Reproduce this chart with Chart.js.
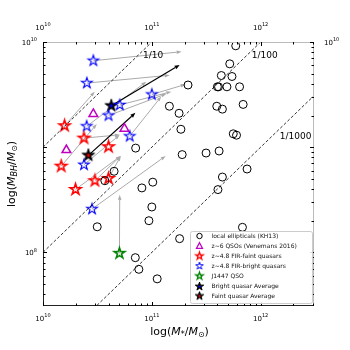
<!DOCTYPE html>
<html>
<head>
<meta charset="utf-8">
<script src="https://cdn.jsdelivr.net/npm/chart.js@4.4.0/dist/chart.umd.min.js"></script>
<style>
html,body{margin:0;padding:0;background:#fff}
</style>
</head>
<body>
<canvas id="myChart" width="350" height="350"></canvas>
<script>
// local ellipticals (KH13)
var ellX = [5.9e11,5.2e11,4.35e11,5.45e11,4.0e11,4.1e11,4.9e11,6.4e11,2.15e11,1.45e11,1.78e11,3.95e11,4.45e11,6.9e11,1.85e11,5.6e11,6.0e11,1.9e11,3.15e11,4.15e11,7.1e10,7.5e11,4.45e11,4.05e11,8.1e10,1.02e11,1.0e11,9.4e10,1.8e11,7.05e10,7.6e10,1.12e11,4.5e10,3.7e10,3.15e10,6.8e11];
var ellY = [9.2e9,6.2e9,4.8e9,4.7e9,3.75e9,3.75e9,3.75e9,3.75e9,3.9e9,2.45e9,2.1e9,2.45e9,2.3e9,2.55e9,1.48e9,1.34e9,1.3e9,8.5e8,8.8e8,9.2e8,9.8e8,6.2e8,5.2e8,3.95e8,4.1e8,4.65e8,2.7e8,2.0e8,1.35e8,8.9e7,6.9e7,5.6e7,5.9e8,4.8e8,1.75e8,1.73e8];
// z~6 QSOs (Venemans 2016)
var triX = [2.9e10,1.64e10,5.6e10];
var triY = [2.07e9,9.4e8,1.5e9];
// z~4.8 FIR-faint
var faintX = [1.58e10,2.38e10,4.0e10,1.47e10,1.99e10,3.0e10,4.0e10];
var faintY = [1.6e9,1.22e9,1.01e9,6.6e8,3.96e8,4.8e8,5.05e8];
var faintEndX = [2.99e10,5.07e10,null,3.12e10,5.18e10,5.18e10,5.18e10];
var faintEndY = [3.37e9,1.31e9,null,1.66e9,8.26e8,8.26e8,8.26e8];
// z~4.8 FIR-bright
var brightX = [2.9e10,2.53e10,1.0e11,5.07e10,4.0e10,2.52e10,6.26e10,2.38e10,2.82e10];
var brightY = [6.64e9,4.07e9,3.17e9,2.52e9,2.0e9,1.58e9,1.27e9,6.8e8,2.58e8];
var brightEndX = [1.88e11,1.46e11,2.05e11,1.51e11,1.36e11,8.89e10,1.22e11,5.07e10,1.34e11];
var brightEndY = [8.09e9,4.83e9,3.96e9,3.37e9,3.22e9,4.19e9,3.03e9,1.31e9,8.26e8];
// J1447
var jX = [5.04e10], jY = [9.8e7], jEndX = [5.07e10], jEndY = [3.52e8];
// averages
var bAvgX = [4.24e10], bAvgY = [2.48e9], bAvgEndX = [1.80e11], bAvgEndY = [6.04e9];
var fAvgX = [2.61e10], fAvgY = [8.36e8], fAvgEndX = [7.06e10], fAvgEndY = [2.12e9];

var ratios = [0.1, 0.01, 0.001];
var ratioLabels = ['1/10', '1/100', '1/1000'];
var ratioLabelX = [8.3e10, 8.3e11, 1.5e12];
var ratioLabelY = [7.4e9, 7.4e9, 1.25e9];

var xTicks = [1e10, 1e11, 1e12];
var yLeftTicks = [1e8, 1e10];
var yRightTicks = [1e10];
var legendLabels = ['local ellipticals (KH13)','z~6 QSOs (Venemans 2016)','z~4.8 FIR-faint quasars','z~4.8 FIR-bright quasars','J1447 QSO','Bright quasar Average','Faint quasar Average'];

var xMin = 1e10, xMax = Math.pow(10, 12.49);
var yMin = Math.pow(10, 7.49), yMax = 1e10;
var FONT = 'DejaVu Sans';

function pts(xs, ys){ return xs.map(function(x,i){ return {x:x, y:ys[i]}; }); }

function starImg(R, lw, stroke, fill, dot){
  var s = Math.ceil(2*R + lw*2 + 2);
  var c = document.createElement('canvas');
  c.width = c.height = s;
  var g = c.getContext('2d');
  function path(r){
    g.beginPath();
    for (var i=0;i<10;i++){
      var rr = i%2 ? r*0.382 : r;
      var a = -Math.PI/2 + i*Math.PI/5;
      g.lineTo(s/2 + rr*Math.cos(a), s/2 + rr*Math.sin(a));
    }
    g.closePath();
  }
  path(R);
  if (fill){ g.fillStyle = fill; g.fill(); }
  g.lineJoin = 'miter';
  g.lineWidth = lw; g.strokeStyle = stroke; g.stroke();
  if (dot){ path(R*0.4); g.fillStyle = dot; g.fill(); }
  return c;
}

var redStar = starImg(5.8, 1.6, '#ff0000', null);
var blueStar = starImg(5.6, 1.1, '#0000ff', null);
var greenStar = starImg(5.6, 1.6, '#008000', null);
var bAvgStar = starImg(6.6, 1, '#000', '#000', '#0000ff');
var fAvgStar = starImg(6.6, 1, '#000', '#000', '#ff0000');

var lRed = starImg(3.9, 1.3, '#ff0000', null);
var lBlue = starImg(3.9, 1, '#0000ff', null);
var lGreen = starImg(3.9, 1.3, '#008000', null);
var lBAvg = starImg(4.4, 1, '#000', '#000', '#0000ff');
var lFAvg = starImg(4.4, 1, '#000', '#000', '#ff0000');

function drawArrow(ctx, x0, y0, x1, y1, color, lw, hl, hw){
  var dx = x1-x0, dy = y1-y0, L = Math.sqrt(dx*dx+dy*dy);
  var ux = dx/L, uy = dy/L;
  var bx = x1 - ux*hl, by = y1 - uy*hl;
  ctx.strokeStyle = color; ctx.fillStyle = color; ctx.lineWidth = lw;
  ctx.beginPath(); ctx.moveTo(x0,y0); ctx.lineTo(bx,by); ctx.stroke();
  ctx.beginPath();
  ctx.moveTo(x1,y1);
  ctx.lineTo(bx - uy*hw/2, by + ux*hw/2);
  ctx.lineTo(bx + uy*hw/2, by - ux*hw/2);
  ctx.closePath(); ctx.fill();
}

function richWidth(ctx, parts){
  var w = 0;
  parts.forEach(function(p){ ctx.font = p.f; w += ctx.measureText(p.t).width; });
  return w;
}
function drawRich(ctx, parts, x, y){
  var w = richWidth(ctx, parts), cx = x - w/2;
  ctx.textAlign = 'left'; ctx.textBaseline = 'middle';
  parts.forEach(function(p){
    ctx.font = p.f;
    ctx.fillText(p.t, cx, y + (p.dy||0));
    cx += ctx.measureText(p.t).width;
  });
}
function pow10Label(ctx, v, x, y, align){
  var e = String(Math.round(Math.log10(v)));
  ctx.font = '7px ' + FONT; var w1 = ctx.measureText('10').width;
  ctx.font = '5px ' + FONT; var w2 = ctx.measureText(e).width;
  var sx = align === 'center' ? x - (w1+w2)/2 : (align === 'right' ? x - w1 - w2 : x);
  ctx.textAlign = 'left'; ctx.textBaseline = 'middle';
  ctx.font = '7px ' + FONT; ctx.fillText('10', sx, y + 1);
  ctx.font = '5px ' + FONT; ctx.fillText(e, sx + w1, y - 2);
}

var arrowsPlugin = {
  id: 'arrows',
  beforeDatasetsDraw: function(chart){
    var ctx = chart.ctx, xs = chart.scales.x, ys = chart.scales.y, a = chart.chartArea;
    ctx.save();
    ctx.beginPath(); ctx.rect(a.left, a.top, a.right-a.left, a.bottom-a.top); ctx.clip();
    function grey(X, Y, EX, EY){
      for (var i=0;i<X.length;i++){
        if (EX[i] == null) continue;
        drawArrow(ctx, xs.getPixelForValue(X[i]), ys.getPixelForValue(Y[i]),
          xs.getPixelForValue(EX[i]), ys.getPixelForValue(EY[i]), '#aaaaaa', 1, 5, 3.5);
      }
    }
    grey(brightX, brightY, brightEndX, brightEndY);
    grey(faintX, faintY, faintEndX, faintEndY);
    grey(jX, jY, jEndX, jEndY);
    drawArrow(ctx, xs.getPixelForValue(bAvgX[0]), ys.getPixelForValue(bAvgY[0]),
      xs.getPixelForValue(bAvgEndX[0]), ys.getPixelForValue(bAvgEndY[0]), '#000', 1.2, 5, 4);
    drawArrow(ctx, xs.getPixelForValue(fAvgX[0]), ys.getPixelForValue(fAvgY[0]),
      xs.getPixelForValue(fAvgEndX[0]), ys.getPixelForValue(fAvgEndY[0]), '#000', 1.2, 5, 4);
    ctx.restore();
  },
  afterDraw: function(chart){
    var ctx = chart.ctx, xs = chart.scales.x, ys = chart.scales.y, a = chart.chartArea;
    ctx.save();
    // frame
    ctx.lineWidth = 1;
    ctx.strokeStyle = '#bbbbbb';
    ctx.beginPath(); ctx.moveTo(a.left, a.top+0.5); ctx.lineTo(a.right, a.top+0.5);
    ctx.moveTo(a.right-0.5, a.top); ctx.lineTo(a.right-0.5, a.bottom); ctx.stroke();
    ctx.strokeStyle = '#222';
    ctx.beginPath(); ctx.moveTo(a.left+0.5, a.top); ctx.lineTo(a.left+0.5, a.bottom);
    ctx.moveTo(a.left, a.bottom-0.5); ctx.lineTo(a.right, a.bottom-0.5); ctx.stroke();
    // ticks
    ctx.strokeStyle = '#000';
    for (var d=10; d<=12; d++){
      for (var m=1; m<=9; m++){
        var v = m*Math.pow(10,d);
        if (v < xMin*0.999 || v > xMax) continue;
        var px = Math.round(xs.getPixelForValue(v)) + 0.5, L = m===1 ? 4 : 2.5;
        ctx.beginPath();
        ctx.moveTo(px, a.bottom); ctx.lineTo(px, a.bottom - L);
        ctx.moveTo(px, a.top); ctx.lineTo(px, a.top + L);
        ctx.stroke();
      }
    }
    for (var d2=7; d2<=10; d2++){
      for (var m2=1; m2<=9; m2++){
        var v2 = m2*Math.pow(10,d2);
        if (v2 < yMin || v2 > yMax*1.001) continue;
        var py = Math.round(ys.getPixelForValue(v2)) + 0.5, L2 = m2===1 ? 4 : 2.5;
        ctx.beginPath();
        ctx.moveTo(a.left, py); ctx.lineTo(a.left + L2, py);
        ctx.moveTo(a.right, py); ctx.lineTo(a.right - L2, py);
        ctx.stroke();
      }
    }
    // tick labels
    ctx.fillStyle = '#000';
    xTicks.forEach(function(v){
      var px = xs.getPixelForValue(v);
      pow10Label(ctx, v, px, a.bottom + 12, 'center');
      pow10Label(ctx, v, px, a.top - 15, 'center');
    });
    yLeftTicks.forEach(function(v){ pow10Label(ctx, v, a.left - 6, ys.getPixelForValue(v), 'right'); });
    yRightTicks.forEach(function(v){ pow10Label(ctx, v, a.right + 10, ys.getPixelForValue(v), 'left'); });
    // ratio labels
    ctx.font = '9px ' + FONT; ctx.textAlign = 'left'; ctx.textBaseline = 'middle';
    ratioLabels.forEach(function(t,i){
      ctx.fillText(t, xs.getPixelForValue(ratioLabelX[i]), ys.getPixelForValue(ratioLabelY[i]));
    });
    // axis titles
    var big = '11px ' + FONT, it = 'italic 11px ' + FONT, sub = 'italic 8px ' + FONT, subr = '8px ' + FONT;
    drawRich(ctx, [{t:'log(',f:big},{t:'M',f:it},{t:'*',f:subr,dy:3},{t:'/',f:big},{t:'M',f:it},{t:'\u2299',f:subr,dy:3},{t:')',f:big}],
      (a.left+a.right)/2 + 1, a.bottom + 26);
    ctx.save();
    ctx.translate(12, (a.top+a.bottom)/2);
    ctx.rotate(-Math.PI/2);
    drawRich(ctx, [{t:'log(',f:big},{t:'M',f:it},{t:'BH',f:sub,dy:3},{t:'/',f:big},{t:'M',f:it},{t:'\u2299',f:subr,dy:3},{t:')',f:big}], 0, 0);
    ctx.restore();
    // legend
    var lx = 190, ly = 231, lw = 122, lh = 72;
    ctx.fillStyle = 'rgba(255,255,255,0.85)';
    ctx.strokeStyle = '#cccccc'; ctx.lineWidth = 1;
    ctx.beginPath();
    if (ctx.roundRect) ctx.roundRect(lx+0.5, ly+0.5, lw, lh, 2); else ctx.rect(lx+0.5, ly+0.5, lw, lh);
    ctx.fill(); ctx.stroke();
    var mx = 199.5, tx = 211.5;
    var rows = [236, 246, 256, 266, 276, 286.5, 296];
    // circle
    ctx.strokeStyle = '#000'; ctx.lineWidth = 1;
    ctx.beginPath(); ctx.arc(mx, rows[0], 2.7, 0, Math.PI*2); ctx.stroke();
    // triangle
    ctx.strokeStyle = '#bf00bf'; ctx.lineWidth = 1.3;
    ctx.beginPath(); ctx.moveTo(mx, rows[1]-3.3); ctx.lineTo(mx+3, rows[1]+2.3); ctx.lineTo(mx-3, rows[1]+2.3); ctx.closePath(); ctx.stroke();
    [lRed, lBlue, lGreen, lBAvg, lFAvg].forEach(function(img, i){
      ctx.drawImage(img, mx - img.width/2, rows[i+2] - img.height/2);
    });
    ctx.fillStyle = '#111'; ctx.font = '6px ' + FONT; ctx.textAlign = 'left'; ctx.textBaseline = 'middle';
    legendLabels.forEach(function(t,i){ ctx.fillText(t, tx, rows[i]); });
    ctx.restore();
  }
};

var ratioData = ratios.map(function(r){ return [{x:xMin, y:xMin*r}, {x:xMax, y:xMax*r}]; });

var datasets = [];
ratioData.forEach(function(d){
  datasets.push({type:'line', data:d, borderColor:'#000', borderWidth:0.8, borderDash:[3,2], pointRadius:0, fill:false});
});
datasets.push({data:pts(ellX, ellY), pointStyle:'circle', radius:4, borderColor:'#000', borderWidth:1, backgroundColor:'rgba(0,0,0,0)'});
datasets.push({data:pts(triX, triY), pointStyle:'triangle', radius:5, borderColor:'#bf00bf', borderWidth:1.5, backgroundColor:'rgba(0,0,0,0)'});
datasets.push({data:pts(faintX, faintY), pointStyle:redStar});
datasets.push({data:pts(brightX, brightY), pointStyle:blueStar});
datasets.push({data:pts(jX, jY), pointStyle:greenStar});
datasets.push({data:pts(bAvgX, bAvgY), pointStyle:bAvgStar});
datasets.push({data:pts(fAvgX, fAvgY), pointStyle:fAvgStar});

var ctx = document.getElementById('myChart');
var grafica = new Chart(ctx, {
  type: 'scatter',
  data: { datasets: datasets },
  options: {
    responsive: false,
    animation: false,
    layout: { padding: { left: 43, right: 36, top: 42, bottom: 44 } },
    plugins: { legend: { display: false }, tooltip: { enabled: false } },
    scales: {
      x: { type: 'logarithmic', min: xMin, max: xMax, display: false },
      y: { type: 'logarithmic', min: yMin, max: yMax, display: false }
    }
  },
  plugins: [arrowsPlugin]
});
</script>
</body>
</html>
